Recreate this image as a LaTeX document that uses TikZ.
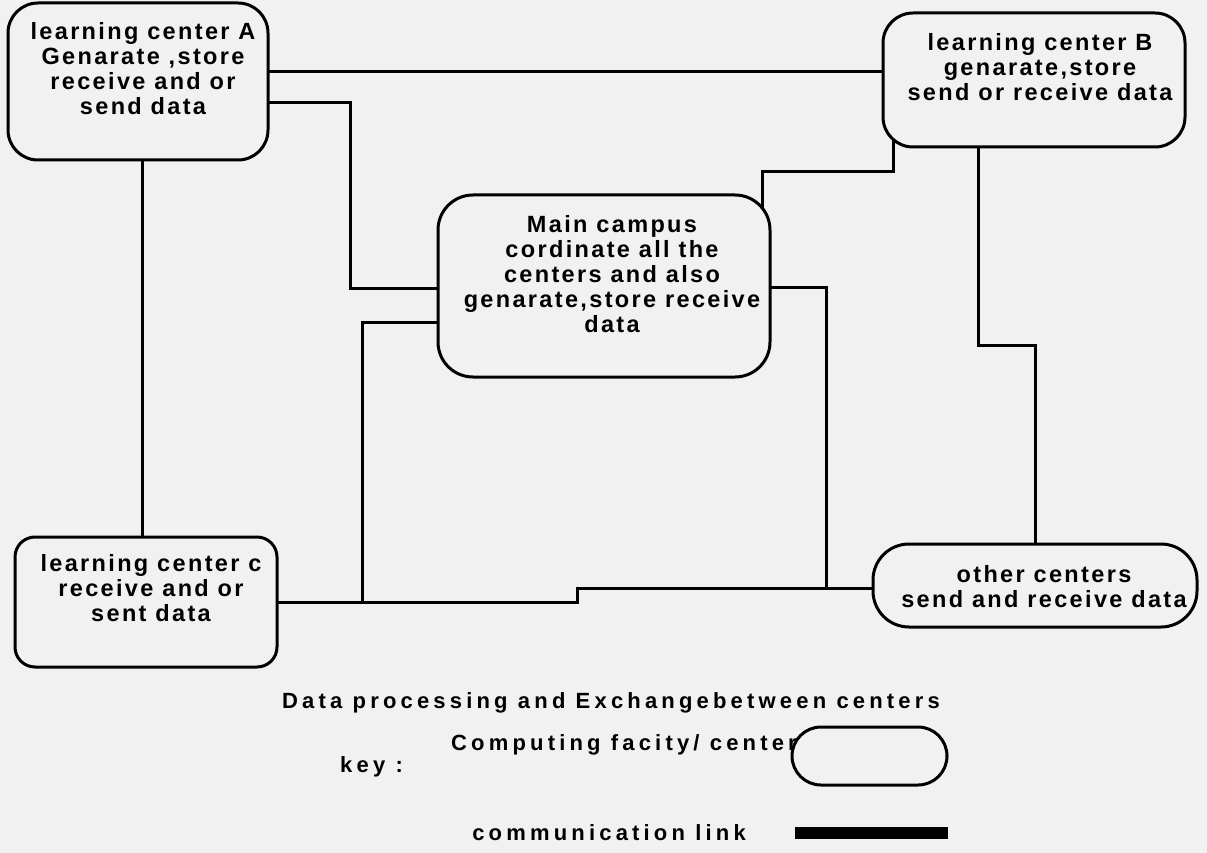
\documentclass[tikz,border=0pt]{standalone}
\usepackage{fontspec}
\setmainfont{Liberation Sans}
\newfontfamily\boxfont[LetterSpace=10]{Liberation Sans Bold}
\newfontfamily\keyfont[LetterSpace=19]{Liberation Sans Bold}
\definecolor{paper}{HTML}{F1F1F1}
\pgfdeclarelayer{bg}
\pgfdeclarelayer{links}
\pgfsetlayers{bg,links,main}
\begin{document}
\begin{tikzpicture}[x=1pt,y=-1pt,
  facility/.style={draw=black, line width=3pt, fill=paper, inner sep=0pt},
  link/.style={line width=3pt, line join=miter},
  lbl/.style={font=\boxfont\fontsize{23.5}{25}\selectfont, align=center, inner sep=0pt, anchor=north},
  keytxt/.style={font=\keyfont\fontsize{22}{25}\selectfont, inner sep=0pt}]
\begin{pgfonlayer}{bg}
  \fill[paper] (0,0) rectangle (1207,853);
\end{pgfonlayer}
% centres
\node[facility, rounded corners=30pt, minimum width=260pt, minimum height=157pt] (A) at (138,81.5) {};
\node[facility, rounded corners=30pt, minimum width=302pt, minimum height=134pt] (B) at (1034,80) {};
\node[facility, rounded corners=35pt, minimum width=332pt, minimum height=182pt] (M) at (604,286) {};
\node[facility, rounded corners=20pt, minimum width=262pt, minimum height=130pt] (C) at (146,602) {};
\node[facility, rounded corners=36pt, minimum width=324pt, minimum height=83pt] (O) at (1035,585.5) {};
% texts
\node[lbl] (tA) at (143,22) {learning center A\\Genarate ,store\\receive and or\\send data};
\node[lbl] (tB) at (1040,33) {learning center B\\genarate,store\\send or receive data};
\node[lbl] (tM) at (612,215) {Main campus\\cordinate all the\\centers and also\\genarate,store receive\\data};
\node[lbl] (tC) at (151,554) {learning center c\\receive and or\\sent data};
\node[lbl] (tO) at (1044,565) {other centers\\send and receive data};
% links
\begin{pgfonlayer}{links}
  \draw[link] (A.center |- 0,72) -- (B.center |- 0,72);
  \draw[link] (A.center |- 0,103) -- (350,103) -- (350,288) -- (M.center |- 0,288);
  \draw[link] (142,0 |- A.center) -- (142,0 |- C.center);
  \draw[link] (M.center |- 0,322) -- (362,322) -- (362,602);
  \draw[link] (C.center) -- (577,602) -- (577,588) -- (O.center |- 0,588);
  \draw[link] (M.center |- 0,287) -- (826,287) -- (826,588);
  \draw[link] (978,0 |- B.center) -- (978,345) -- (1035,345) -- (1035,0 |- O.center);
  \draw[link] (893,0 |- B.center) -- (893,172) -- (762,172) -- (762,0 |- M.center);
\end{pgfonlayer}
% caption and key
\node[keytxt, anchor=base west] (title) at (282,708) {Data processing and Exchangebetween centers};
\node[keytxt, anchor=base west] (key) at (340,772) {key :};
\node[keytxt, anchor=base east] (comp) at (797,750) {Computing facity/ center};
\node[facility, rounded corners=29pt, minimum width=155pt, minimum height=58pt] (keybox) at (869.5,756) {};
\node[keytxt, anchor=base east] (comm) at (746,840) {communication link};
\node[fill=black, inner sep=0pt, minimum width=153pt, minimum height=12pt] (bar) at (871.5,833) {};
\end{tikzpicture}
\end{document}
